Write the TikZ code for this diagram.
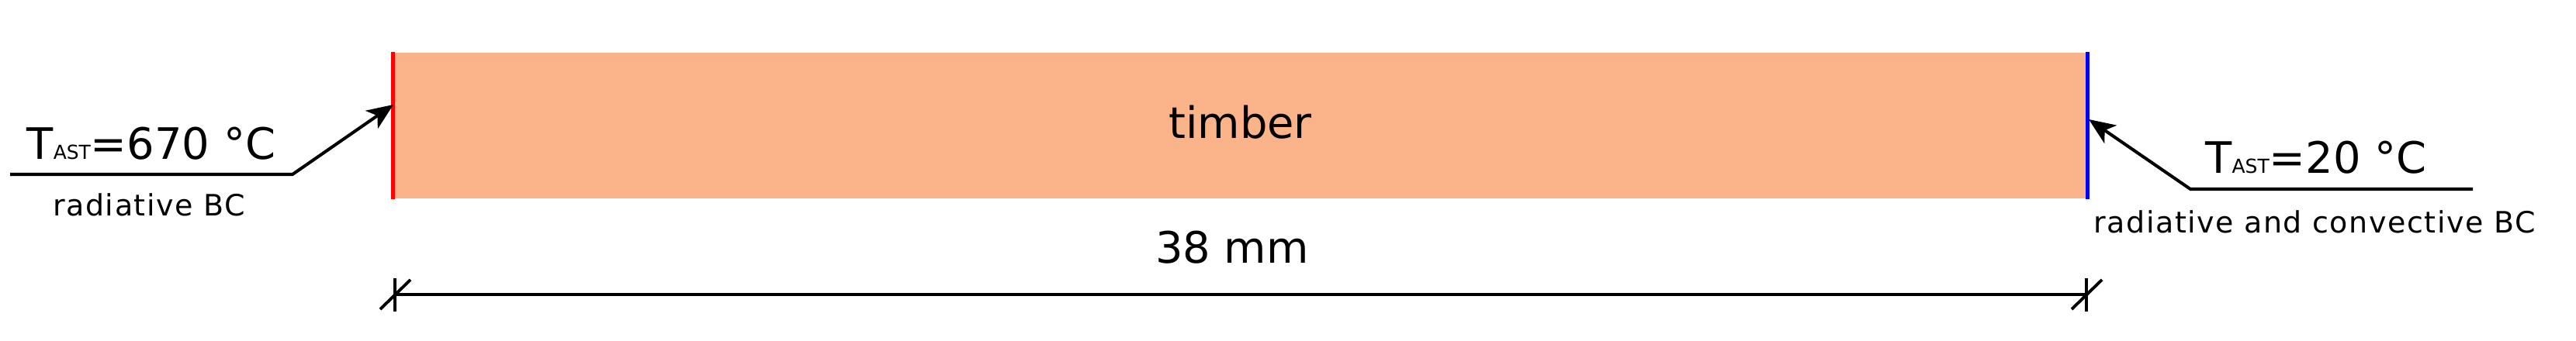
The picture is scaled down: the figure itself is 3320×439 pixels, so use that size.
\documentclass[tikz,border=0pt]{standalone}
\usepackage{fontspec}
\setmainfont{DejaVu Sans}
\newfontfamily\bcfont[LetterSpace=4]{DejaVu Sans}
\usetikzlibrary{positioning,arrows.meta}
\definecolor{timbercolor}{RGB}{251,180,138}
\newcommand{\bigtxt}{\fontsize{15.9}{19}\selectfont}
\newcommand{\subtxt}[1]{{\fontsize{7.1}{8}\selectfont #1}}

\begin{document}
\begin{tikzpicture}
            [
                x=0.01cm, y=-0.01cm,
                timberbox/.style={fill=timbercolor, inner sep=0pt, minimum width=21.81cm, minimum height=1.88cm, text depth=0.1cm, font=\bigtxt},
                bigtext/.style={anchor=base, inner sep=0pt, font=\bigtxt},
                bctext/.style={anchor=base, inner sep=0pt, font=\bcfont\fontsize{10.8}{13}\selectfont},
                leader/.style={line width=1.15pt, -{Stealth[length=0.34cm, width=0.28cm, inset=0.09cm]}},
                dimline/.style={line width=1.1pt},
            ]
            \useasboundingbox (0,0) rectangle (3320,439);
            % timber layer
            \node[timberbox] (timber) at (1598.5,162) {timber};
            \draw[red, line width=1.3pt] (timber.north west) -- (timber.south west);
            \draw[blue, line width=1.3pt] (timber.north east) -- (timber.south east);
            % exposed side
            \coordinate (lstart) at (13,225);
            \coordinate (lknee) at (377,225);
            \coordinate (lhit) at (507,135);
            \draw[leader] (lstart) -- (lknee) -- (lhit);
            \node[bigtext] (tleft) at (195,205) {T\subtxt{AST}=670 °C};
            \node[bctext] (bcleft) at (192,278) {radiative BC};
            % unexposed side
            \coordinate (rend) at (3187,244);
            \coordinate (rknee) at (2823,244);
            \coordinate (rhit) at (2692,154);
            \draw[leader] (rend) -- (rknee) -- (rhit);
            \node[bigtext] (tright) at (2985,223) {T\subtxt{AST}=20 °C};
            \node[bctext] (bcright) at (2983,300) {radiative and convective BC};
            % thickness
            \coordinate (dl) at (509,380);
            \coordinate (dr) at (2689,380);
            \draw[dimline] (dl) -- (dr);
            \foreach \p in {dl,dr} {
                \draw[dimline] ([yshift=0.21cm]\p) -- ([yshift=-0.22cm]\p);
                \draw[dimline] ([xshift=-0.19cm,yshift=-0.19cm]\p) -- ([xshift=0.2cm,yshift=0.19cm]\p);
            }
            \node[bigtext] (dimlabel) at (1588,339) {38 mm};
        \end{tikzpicture}
\end{document}
